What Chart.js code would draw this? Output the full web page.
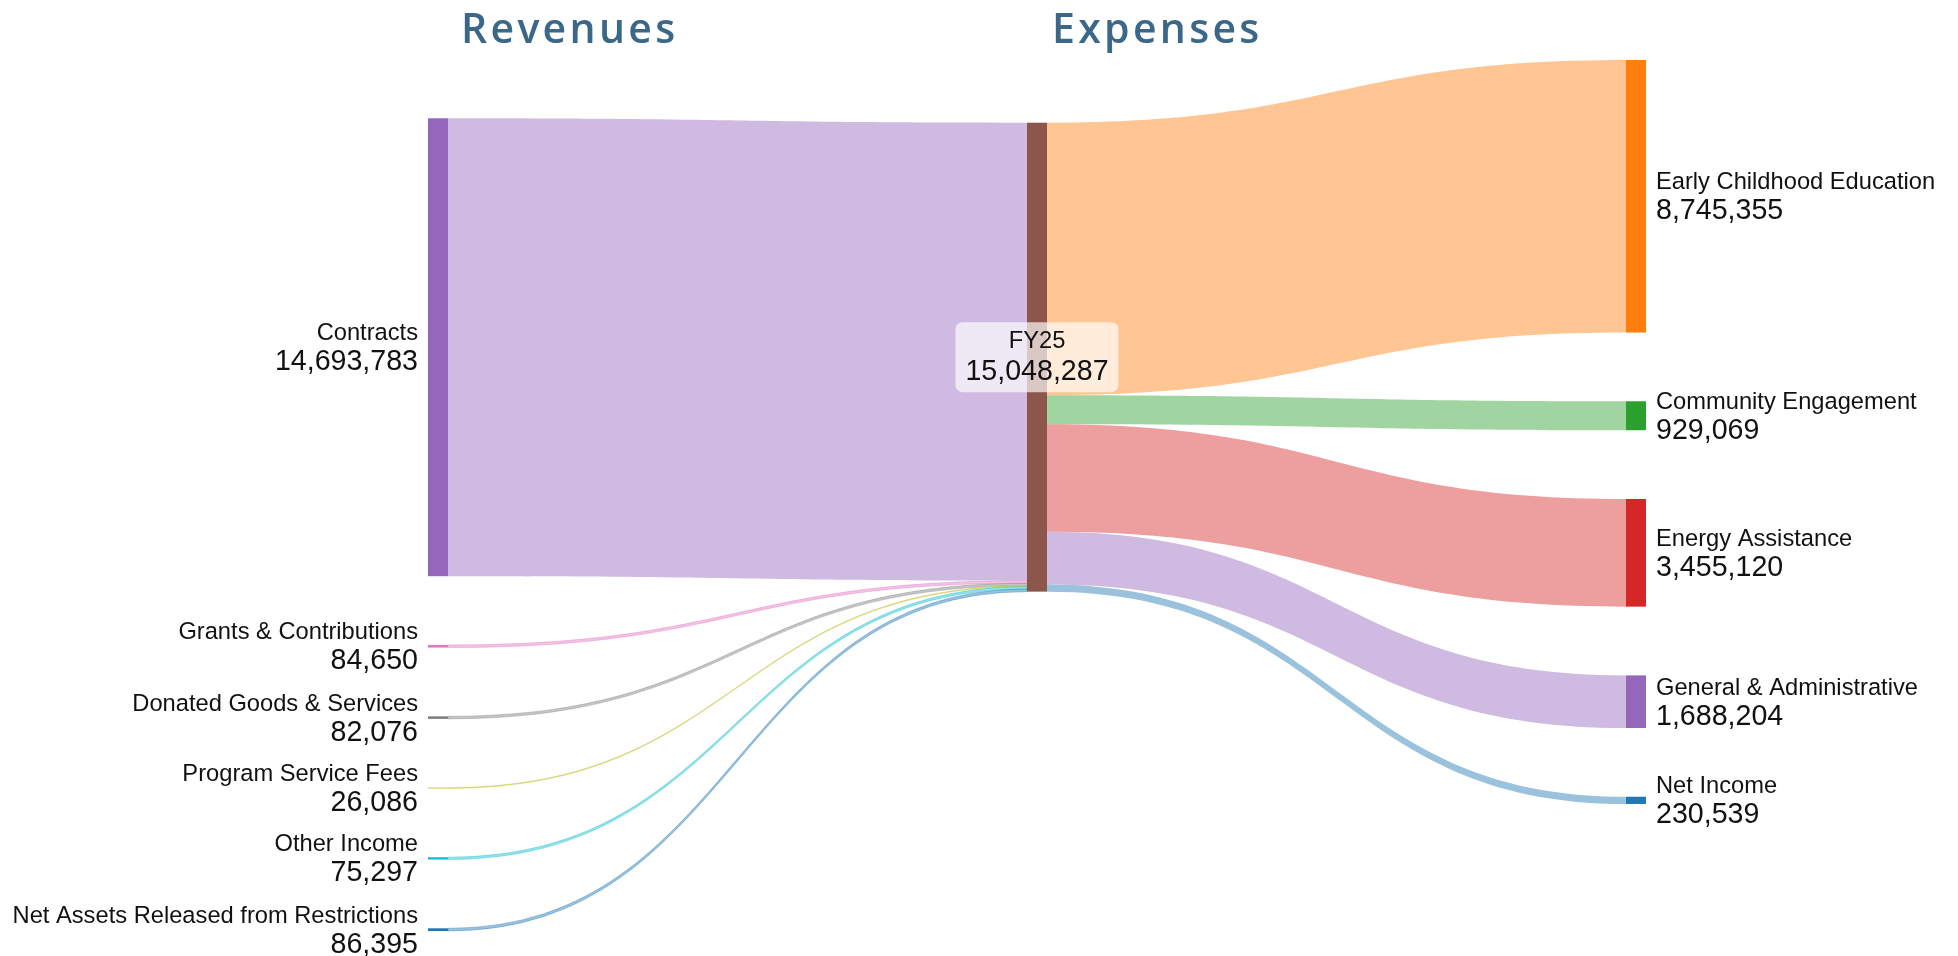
<!DOCTYPE html>
<html>
<head>
<meta charset="utf-8">
<title>FY25 Revenues and Expenses</title>
<script src="https://cdn.jsdelivr.net/npm/chart.js@4.4.1/dist/chart.umd.min.js"></script>
<style>
  html, body { margin: 0; padding: 0; background: #fff; }
  #wrap { width: 1958px; height: 956px; position: relative; }
</style>
</head>
<body>
<div id="wrap"><canvas id="chart"></canvas></div>
<script>
// ---- data ----
const revenueLabels = [
    'Contracts',
    'Grants & Contributions',
    'Donated Goods & Services',
    'Program Service Fees',
    'Other Income',
    'Net Assets Released from Restrictions'
];
const revenueValues = [14693783, 84650, 82076, 26086, 75297, 86395];

const expenseLabels = [
    'Early Childhood Education',
    'Community Engagement',
    'Energy Assistance',
    'General & Administrative',
    'Net Income'
];
const expenseValues = [8745355, 929069, 3455120, 1688204, 230539];

const centerLabel = 'FY25';
const columnTitles = ['Revenues', 'Expenses'];

// ---- styles ----
const revenueColors = ['#9467bd', '#e377c2', '#7f7f7f', '#bcbd22', '#17becf', '#1f77b4'];
const expenseColors = ['#ff7f0e', '#2ca02c', '#d62728', '#9467bd', '#1f77b4'];
const centerColor = '#8c564b';
const LINK_ALPHA = 0.45;
const NODE_WIDTH = 20;
const NODE_PAD = 68.75;              // px between nodes of a column
const COLUMN_OFFSET = [58.3, 62.7, 0]; // px from top of plot area
const Y_MAX = 27950000;
const TITLE_COLOR = '#3b6889';
const LABEL_FONT = '"Liberation Sans", Arial, sans-serif';
const NAME_SIZE = 23.7;
const VALUE_SIZE = 28.6;

const fmt = v => v.toLocaleString('en-US');

/**
 * Turns a hex colour into rgba with the given alpha.
 */
function fade(hex, alpha) {
    const n = parseInt(hex.slice(1), 16);
    return `rgba(${(n >> 16) & 255},${(n >> 8) & 255},${n & 255},${alpha})`;
}

/**
 * Builds the three columns of nodes and the links between them.
 */
function buildGraph() {
    const centerValue = revenueValues.reduce((a, b) => a + b, 0);
    const columns = [
        revenueLabels.map((label, i) => ({ label, value: revenueValues[i], color: revenueColors[i] })),
        [{ label: centerLabel, value: centerValue, color: centerColor }],
        expenseLabels.map((label, i) => ({ label, value: expenseValues[i], color: expenseColors[i] }))
    ];
    const center = columns[1][0];
    const links = [];
    columns[0].forEach(n => links.push({ source: n, target: center, value: n.value, color: n.color }));
    columns[2].forEach(n => links.push({ source: center, target: n, value: n.value, color: n.color }));
    return { columns, links };
}

const graph = buildGraph();

/**
 * Draws the sankey nodes, flows and labels through the chart's x and y scales.
 */
const sankeyPlugin = {
    id: 'sankey',
    afterDraw(chart) {
        const ctx = chart.ctx;
        const x = chart.scales.x;
        const y = chart.scales.y;
        const padVal = y.getValueForPixel(y.top + NODE_PAD) - y.getValueForPixel(y.top);

        // stack nodes in each column
        graph.columns.forEach((col, c) => {
            let cursor = y.getValueForPixel(y.top + COLUMN_OFFSET[c]);
            col.forEach(node => {
                node.column = c;
                node.v0 = cursor;
                node.v1 = cursor + node.value;
                node.outUsed = 0;
                node.inUsed = 0;
                cursor = node.v1 + padVal;
            });
        });

        // flows
        graph.links.forEach(link => {
            const s = link.source, t = link.target;
            const x0 = x.getPixelForValue(s.column) + NODE_WIDTH / 2;
            const x1 = x.getPixelForValue(t.column) - NODE_WIDTH / 2;
            const y0t = y.getPixelForValue(s.v0 + s.outUsed);
            const y0b = y.getPixelForValue(s.v0 + s.outUsed + link.value);
            const y1t = y.getPixelForValue(t.v0 + t.inUsed);
            const y1b = y.getPixelForValue(t.v0 + t.inUsed + link.value);
            s.outUsed += link.value;
            t.inUsed += link.value;
            const xm = (x0 + x1) / 2;
            ctx.save();
            ctx.beginPath();
            ctx.moveTo(x0, y0t);
            ctx.bezierCurveTo(xm, y0t, xm, y1t, x1, y1t);
            ctx.lineTo(x1, y1b);
            ctx.bezierCurveTo(xm, y1b, xm, y0b, x0, y0b);
            ctx.closePath();
            ctx.fillStyle = fade(link.color, LINK_ALPHA);
            ctx.fill();
            if (y0b - y0t < 3) {
                // keep hairline flows visible
                ctx.strokeStyle = fade(link.color, LINK_ALPHA);
                ctx.lineWidth = 0.8;
                ctx.stroke();
            }
            ctx.restore();
        });

        // nodes
        graph.columns.forEach(col => col.forEach(node => {
            const px = x.getPixelForValue(node.column);
            const top = y.getPixelForValue(node.v0);
            const bottom = y.getPixelForValue(node.v1);
            ctx.fillStyle = node.color;
            ctx.fillRect(px - NODE_WIDTH / 2, top, NODE_WIDTH, bottom - top);
        }));

        // labels
        ctx.save();
        ctx.fillStyle = '#111';
        ctx.textBaseline = 'alphabetic';
        graph.columns.forEach(col => col.forEach(node => {
            const px = x.getPixelForValue(node.column);
            const cy = (y.getPixelForValue(node.v0) + y.getPixelForValue(node.v1)) / 2;
            const value = fmt(node.value);
            if (node.column === 1) {
                ctx.font = `${VALUE_SIZE}px ${LABEL_FONT}`;
                const w = ctx.measureText(value).width + 20;
                ctx.fillStyle = 'rgba(255,255,255,0.68)';
                ctx.beginPath();
                ctx.roundRect(px - w / 2, cy - 35, w, 70, 7);
                ctx.fill();
                ctx.fillStyle = '#111';
                ctx.textAlign = 'center';
                ctx.font = `${NAME_SIZE}px ${LABEL_FONT}`;
                ctx.fillText(node.label, px, cy - 9);
                ctx.font = `${VALUE_SIZE}px ${LABEL_FONT}`;
                ctx.fillText(value, px, cy + 23);
                return;
            }
            const left = node.column === 0;
            const tx = left ? px - NODE_WIDTH / 2 - 10 : px + NODE_WIDTH / 2 + 10;
            ctx.textAlign = left ? 'right' : 'left';
            ctx.font = `${NAME_SIZE}px ${LABEL_FONT}`;
            ctx.fillText(node.label, tx, cy - 7);
            ctx.font = `${VALUE_SIZE}px ${LABEL_FONT}`;
            ctx.fillText(value, tx, cy + 23);
        }));

        // column titles
        ctx.fillStyle = TITLE_COLOR;
        ctx.textAlign = 'left';
        ctx.font = `600 41px "Open Sans", sans-serif`;
        ctx.letterSpacing = '3.3px';
        const titleShift = [23, 15];
        columnTitles.forEach((t, i) => {
            ctx.fillText(t, x.getPixelForValue(i) + titleShift[i], 42.7);
        });
        ctx.restore();
    }
};

new Chart(document.getElementById('chart').getContext('2d'), {
    type: 'scatter',
    data: { datasets: [{ data: [], pointRadius: 0 }] },
    options: {
        responsive: true,
        maintainAspectRatio: false,
        animation: false,
        layout: { padding: { left: 438, right: 322, top: 60, bottom: 25 } },
        plugins: { legend: { display: false }, tooltip: { enabled: false } },
        scales: {
            x: { type: 'linear', min: 0, max: 2, display: false },
            y: { type: 'linear', min: 0, max: Y_MAX, reverse: true, display: false }
        }
    },
    plugins: [sankeyPlugin]
});
</script>
</body>
</html>
